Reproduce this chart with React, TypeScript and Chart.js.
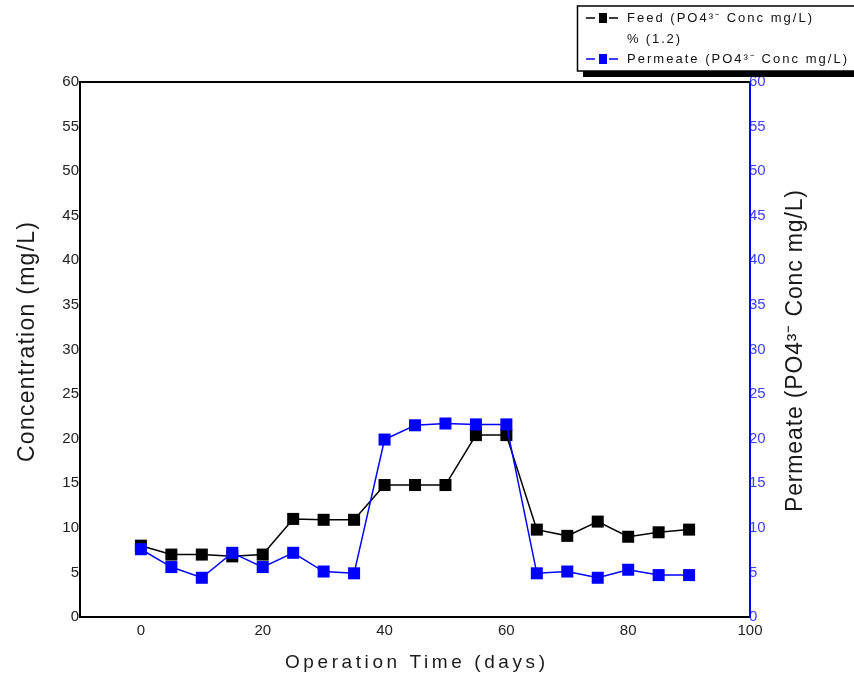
import { useEffect, useRef } from "react";
import { Chart, registerables } from "chart.js";

Chart.register(...registerables);

const DAYS = [0, 5, 10, 15, 20, 25, 30, 35, 40, 45, 50, 55, 60, 65, 70, 75, 80, 85, 90];
const FEED = [8.0, 7.0, 7.0, 6.8, 7.0, 11.0, 10.9, 10.9, 14.8, 14.8, 14.8, 20.4, 20.4, 9.8, 9.1, 10.7, 9.0, 9.5, 9.8];
const PERMEATE = [7.6, 5.6, 4.4, 7.2, 5.6, 7.2, 5.1, 4.9, 19.9, 21.5, 21.7, 21.6, 21.6, 4.9, 5.1, 4.4, 5.3, 4.7, 4.7];
const X_TICKS = [0, 20, 40, 60, 80, 100];
const Y_TICKS = [0, 5, 10, 15, 20, 25, 30, 35, 40, 45, 50, 55, 60];
const X_TITLE = "Operation Time (days)";
const Y_TITLE = "Concentration (mg/L)";
const Y2_TITLE = "Permeate (PO4³⁻ Conc mg/L)";
const LEGEND_LABELS = ["Feed (PO4³⁻ Conc mg/L)", "% (1.2)", "Permeate (PO4³⁻ Conc mg/L)"];

const FONT = "'Liberation Sans', Arial, sans-serif";
const BLUE = "#0000ff";

function drawFitted(ctx: CanvasRenderingContext2D, text: string, x: number, y: number, font: string, target: number, color: string) {
  ctx.font = font;
  (ctx as any).letterSpacing = "0px";
  const w = ctx.measureText(text).width;
  const n = Array.from(text).length;
  const sp = target > 0 ? (target - w) / Math.max(1, n - 1) : 0;
  (ctx as any).letterSpacing = sp + "px";
  ctx.fillStyle = color;
  ctx.textAlign = "left";
  ctx.textBaseline = "middle";
  ctx.fillText(text, x, y);
  (ctx as any).letterSpacing = "0px";
}

const decorPlugin = {
  id: "decor",
  afterDraw(chart: any) {
    const ctx: CanvasRenderingContext2D = chart.ctx;
    const a = chart.chartArea;
    ctx.save();
    ctx.strokeStyle = "#000";
    ctx.lineWidth = 2;
    ctx.beginPath();
    ctx.moveTo(a.left, a.top);
    ctx.lineTo(a.right, a.top);
    ctx.stroke();
    ctx.strokeStyle = BLUE;
    ctx.beginPath();
    ctx.moveTo(a.right, a.top - 1);
    ctx.lineTo(a.right, a.bottom + 1);
    ctx.stroke();

    drawFitted(ctx, X_TITLE, 285, 663, `19px ${FONT}`, 260, "#1a1a1a");

    ctx.save();
    ctx.translate(28, 342);
    ctx.rotate(-Math.PI / 2);
    drawFitted(ctx, Y_TITLE, -120, 0, `23px ${FONT}`, 240, "#1a1a1a");
    ctx.restore();

    ctx.save();
    ctx.translate(796, 351);
    ctx.rotate(-Math.PI / 2);
    drawFitted(ctx, Y2_TITLE, -161, 0, `23px ${FONT}`, 322, "#1a1a1a");
    ctx.restore();

    ctx.fillStyle = "#000";
    ctx.fillRect(583, 71, 280, 6);
    ctx.fillStyle = "#fff";
    ctx.fillRect(577, 6, 290, 65);
    ctx.strokeStyle = "#000";
    ctx.lineWidth = 1.5;
    ctx.strokeRect(577.5, 6, 300, 65);

    const rows = [
      { y: 18, color: "#000", marker: true, label: LEGEND_LABELS[0], w: 185 },
      { y: 39, color: "#000", marker: false, label: LEGEND_LABELS[1], w: 53 },
      { y: 59, color: BLUE, marker: true, label: LEGEND_LABELS[2], w: 220 },
    ];
    rows.forEach((r) => {
      if (r.marker) {
        ctx.strokeStyle = r.color;
        ctx.lineWidth = 1.5;
        ctx.beginPath();
        ctx.moveTo(586, r.y);
        ctx.lineTo(595, r.y);
        ctx.moveTo(609, r.y);
        ctx.lineTo(618, r.y);
        ctx.stroke();
        ctx.fillStyle = r.color;
        ctx.fillRect(599, r.y - 5, 8, 10);
      }
      drawFitted(ctx, r.label, 627, r.y, `13px ${FONT}`, r.w, "#111");
    });
    ctx.restore();
  },
};

export default function App() {
  const ref = useRef<HTMLCanvasElement | null>(null);
  useEffect(() => {
    document.body.style.margin = "0";
    const canvas = ref.current!;
    const chart = new Chart(canvas, {
      type: "line",
      data: {
        datasets: [
          {
            label: LEGEND_LABELS[2],
            data: DAYS.map((d, i) => ({ x: d, y: PERMEATE[i] })),
            yAxisID: "y1",
            borderColor: BLUE,
            backgroundColor: BLUE,
            borderWidth: 1.5,
            pointStyle: "rect",
            pointRadius: 8.5,
            pointBorderWidth: 0,
            pointBackgroundColor: BLUE,
            tension: 0,
          },
          {
            label: LEGEND_LABELS[0],
            data: DAYS.map((d, i) => ({ x: d, y: FEED[i] })),
            yAxisID: "y",
            borderColor: "#000",
            backgroundColor: "#000",
            borderWidth: 1.5,
            pointStyle: "rect",
            pointRadius: 8.5,
            pointBorderWidth: 0,
            pointBackgroundColor: "#000",
            tension: 0,
          },
        ],
      },
      options: {
        responsive: false,
        animation: false,
        layout: { padding: { top: 82, left: 0, right: 0, bottom: 0 } },
        plugins: { legend: { display: false }, tooltip: { enabled: false } },
        scales: {
          x: {
            type: "linear",
            min: -10,
            max: 100,
            afterBuildTicks: (s: any) => {
              s.ticks = X_TICKS.map((v) => ({ value: v }));
            },
            afterFit: (s: any) => {
              s.height = 60;
            },
            grid: { display: false, drawTicks: false },
            border: { display: true, color: "#000", width: 2 },
            ticks: { font: { family: FONT, size: 15 }, color: "#222", padding: 5, maxRotation: 0 },
          },
          y: {
            position: "left",
            min: 0,
            max: 60,
            afterBuildTicks: (s: any) => {
              s.ticks = Y_TICKS.map((v) => ({ value: v }));
            },
            afterFit: (s: any) => {
              s.width = 80;
            },
            grid: { display: false, drawTicks: false },
            border: { display: true, color: "#000", width: 2 },
            ticks: { font: { family: FONT, size: 15 }, color: "#222", padding: 1 },
          },
          y1: {
            position: "right",
            min: 0,
            max: 60,
            afterBuildTicks: (s: any) => {
              s.ticks = Y_TICKS.map((v) => ({ value: v }));
            },
            afterFit: (s: any) => {
              s.width = 104;
            },
            grid: { display: false, drawTicks: false },
            border: { display: true, color: BLUE, width: 2 },
            ticks: { font: { family: FONT, size: 15 }, color: "#4040ff", padding: -1 },
          },
        },
      },
      plugins: [decorPlugin],
    } as any);
    return () => chart.destroy();
  }, []);
  return (
    <div style={{ width: 854, height: 677, background: "#fff" }}>
      <canvas ref={ref} width={854} height={677} style={{ display: "block" }} />
    </div>
  );
}
